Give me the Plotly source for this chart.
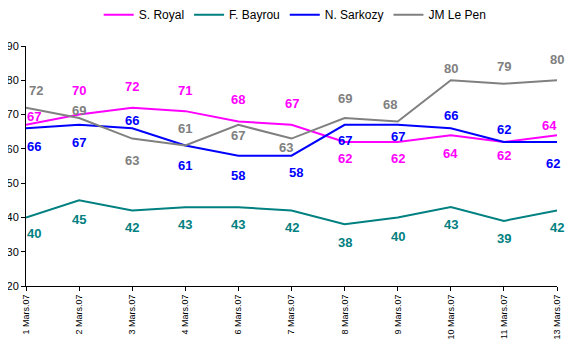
import plotly.graph_objects as go

dates = ["1 Mars.07", "2 Mars.07", "3 Mars.07", "4 Mars.07", "6 Mars.07", "7 Mars.07",
         "8 Mars.07", "9 Mars.07", "10 Mars.07", "11 Mars.07", "13 Mars.07"]
royal = [67, 70, 72, 71, 68, 67, 62, 62, 64, 62, 64]
bayrou = [40, 45, 42, 43, 43, 42, 38, 40, 43, 39, 42]
sarkozy = [66, 67, 66, 61, 58, 58, 67, 67, 66, 62, 62]
lepen = [72, 69, 63, 61, 67, 63, 69, 68, 80, 79, 80]

series = [
    ("S. Royal", royal, "#FF00FF"),
    ("F. Bayrou", bayrou, "#008080"),
    ("N. Sarkozy", sarkozy, "#0000FF"),
    ("JM Le Pen", lepen, "#808080"),
]

# label offsets (pixels) - styling only
shifts = {
    "S. Royal": [8, 24, 21, 21, 22, 21, -16, -16, -18, -13, 10],
    "F. Bayrou": [-16, -19, -17, -17, -17, -17, -18, -19, -17, -18, -17],
    "N. Sarkozy": [-18, -18, 8, -20, -20, -17, -16, -12, 13, 13, -21],
    "JM Le Pen": [17, 8, -22, 17, -11, -9, 20, 17, 12, 17, 21],
}
xoff = {
    "S. Royal": [8, 0, 0, 0, 0, 0, 0, 0, 0, 0, -8],
    "F. Bayrou": [8, 0, 0, 0, 0, 0, 0, 0, 0, 0, 0],
    "N. Sarkozy": [8, 0, 0, 0, 0, 4, 0, 0, 0, 0, -4],
    "JM Le Pen": [10, 0, 0, 0, 0, -6, 0, -8, 0, 0, 0],
}

fig = go.Figure()
annotations = []
for name, vals, col in series:
    fig.add_trace(go.Scatter(x=dates, y=vals, mode="lines", name=name,
                             line=dict(color=col, width=2)))
    for i, v in enumerate(vals):
        annotations.append(dict(x=dates[i], y=v, text=str(v), showarrow=False,
                                yshift=shifts[name][i], xshift=xoff[name][i],
                                font=dict(family="Liberation Sans, Arial", size=13,
                                          color=col, weight="bold")))

# page body has an 8px default margin; compensate in figure size/margins
fig.update_layout(
    width=571, height=350,
    margin=dict(l=18, r=22, t=38, b=72, autoexpand=False),
    paper_bgcolor="white", plot_bgcolor="white",
    font=dict(family="Liberation Sans, Arial", size=11, color="black"),
    showlegend=True,
    legend=dict(orientation="h", x=0.507, xanchor="center", y=1.13, yref="paper",
                yanchor="middle", font=dict(size=12), itemwidth=30, traceorder="normal"),
    annotations=annotations,
)
fig.update_xaxes(type="category", range=[0, 10], showline=True, linecolor="black",
                 linewidth=1, ticks="outside", ticklen=4, tickcolor="black",
                 tickangle=-90, tickfont=dict(size=9), showgrid=False, zeroline=False,
                 automargin=False)
fig.update_yaxes(range=[20, 90], dtick=10, showline=True, linecolor="black", linewidth=1,
                 ticks="outside", ticklen=4, tickcolor="black", showgrid=False,
                 zeroline=False, tickfont=dict(size=11), automargin=False)

fig.write_html("out.html")
